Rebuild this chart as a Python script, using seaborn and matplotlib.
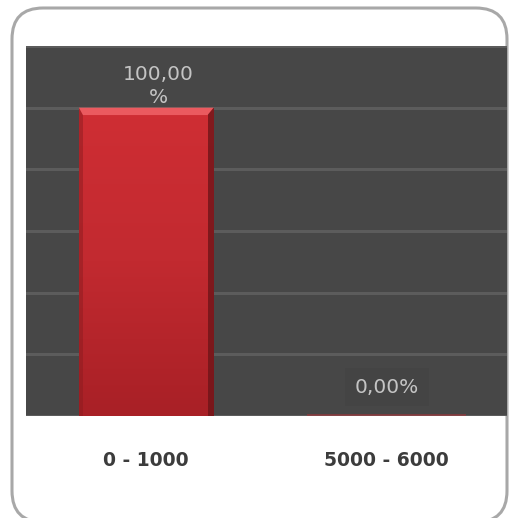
import numpy as np
import pandas as pd
import matplotlib
matplotlib.use("Agg")
import matplotlib.pyplot as plt
from matplotlib.patches import FancyBboxPatch, Polygon
from matplotlib.colors import LinearSegmentedColormap
import seaborn as sns

categories = ["0 - 1000", "5000 - 6000"]
values = [100.0, 0.0]
value_labels = ["100,00\n%", "0,00%"]

sns.set_theme(style="white")
plt.rcParams["font.family"] = ["DejaVu Sans"]

df = pd.DataFrame({"range": categories, "share": values})

fig = plt.figure(figsize=(5.18, 5.18), dpi=100)
W = H = 518.0

# rounded outer frame of the chart
frame = FancyBboxPatch((12 / W, (H - 522) / H), 495 / W, 514 / H,
                       boxstyle="round,pad=0,rounding_size=0.06",
                       transform=fig.transFigure, facecolor="white",
                       edgecolor="#a8a8a8", linewidth=2.2, zorder=-10)
fig.patches.append(frame)

ax = fig.add_axes([26 / W, (H - 416) / H, (507 - 26) / W, (416 - 46) / H])
ax.set_zorder(5)
ax.set_facecolor("#474747")

sns.barplot(data=df, x="range", y="share", color="#c42a30", width=0.56,
            saturation=1, linewidth=0, ax=ax, zorder=3)

ax.set_ylim(0, 120)
ax.set_xlim(-0.5, 1.5)
ax.set_yticks(np.arange(0, 121, 20))
ax.yaxis.grid(True, color="#5c5c5c", linewidth=2.2)
ax.set_axisbelow(True)
ax.set_yticklabels([])
ax.tick_params(axis="y", length=0)
ax.tick_params(axis="x", length=0, pad=25, labelsize=13.5, labelcolor="#3c3c3c")
for lbl in ax.get_xticklabels():
    lbl.set_fontweight("bold")
ax.set_xlabel("")
ax.set_ylabel("")
for side in ["top", "right", "left", "bottom"]:
    ax.spines[side].set_visible(False)

# shaded body for the bars: lighter top bevel, darker sides
cmap_v = LinearSegmentedColormap.from_list(
    "barv", ["#a82026", "#c22a30", "#cf2e34"])
for patch, val in zip(ax.patches, values):
    x0, w = patch.get_x(), patch.get_width()
    if val <= 0:
        ax.plot([x0 - 0.05, x0 + w + 0.05], [0.25, 0.25], color="#b03036",
                linewidth=1.2, alpha=0.6, zorder=4, solid_capstyle="butt")
        continue
    grad = np.linspace(0, 1, 256).reshape(-1, 1)
    im = ax.imshow(grad, extent=(x0, x0 + w, 0, val), origin="lower",
                   cmap=cmap_v, aspect="auto", zorder=4)
    im.set_clip_path(patch)
    ax.fill_between([x0 + w * 0.955, x0 + w], 0, val, color="#6e1418",
                    alpha=0.8, zorder=5, linewidth=0)
    ax.fill_between([x0, x0 + w * 0.03], 0, val, color="#8c1c20",
                    alpha=0.5, zorder=5, linewidth=0)
    ax.add_patch(Polygon([(x0, val), (x0 + w, val),
                          (x0 + w * 0.955, val - 2.4), (x0 + w * 0.03, val - 2.4)],
                         closed=True, facecolor="#ea5a5f", edgecolor="none",
                         zorder=5))

ax.set_xlim(-0.5, 1.5)
ax.set_ylim(0, 120)

# value labels
ax.text(0.05, 107.0, value_labels[0], ha="center", va="center",
        color="#c4c4c4", fontsize=14.5, linespacing=1.3, zorder=6)
ax.text(1.0, 9.4, value_labels[1], ha="center", va="center",
        color="#c4c4c4", fontsize=14.5, zorder=6,
        bbox=dict(facecolor="#444444", edgecolor="none", pad=7))

fig.savefig("out.png", dpi=100, facecolor="white")
